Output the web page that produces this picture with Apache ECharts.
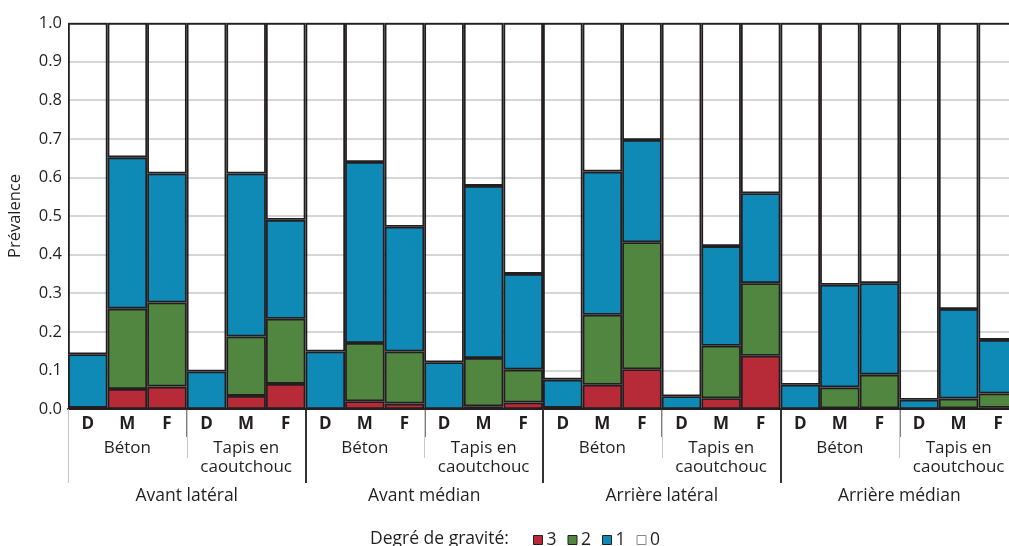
<!DOCTYPE html>
<html>
<head>
<meta charset="utf-8">
<script src="https://cdn.jsdelivr.net/npm/echarts@6/dist/echarts.min.js"></script>
<style>
  html, body { margin: 0; padding: 0; background: #ffffff; }
  #chart { width: 1009px; height: 546px; }
</style>
</head>
<body>
<div id="chart"></div>
<script>
// Hierarchy of the horizontal axis: position on the hoof, floor type, stage
const positions = ['Avant latéral', 'Avant médian', 'Arrière latéral', 'Arrière médian'];
const surfaces = ['Béton', 'Tapis en\ncaoutchouc'];
const stages = ['D', 'M', 'F'];

// Severity grades and their colours
const grades = ['3', '2', '1', '0'];
const gradeColors = ['#b72a38', '#518641', '#0f89b6', 'transparent'];

// Prevalence share of each severity grade, one value per bar (stacked bottom to top)
const grade3 = [0.003, 0.052, 0.058, 0, 0.034, 0.065,
                0, 0.020, 0.014, 0, 0.007, 0.017,
                0.003, 0.063, 0.103, 0, 0.028, 0.138,
                0, 0.002, 0.002, 0, 0.002, 0.003];
const grade2 = [0, 0.208, 0.218, 0, 0.154, 0.169,
                0, 0.151, 0.135, 0, 0.125, 0.085,
                0, 0.181, 0.329, 0, 0.136, 0.188,
                0, 0.054, 0.087, 0, 0.025, 0.037];
const grade1 = [0.139, 0.392, 0.334, 0.097, 0.422, 0.256,
                0.149, 0.469, 0.323, 0.121, 0.446, 0.248,
                0.073, 0.371, 0.265, 0.033, 0.258, 0.233,
                0.063, 0.266, 0.237, 0.024, 0.232, 0.139];
const grade0 = [0.858, 0.348, 0.390, 0.903, 0.390, 0.510,
                0.851, 0.360, 0.528, 0.879, 0.422, 0.650,
                0.924, 0.385, 0.303, 0.967, 0.578, 0.441,
                0.937, 0.678, 0.674, 0.976, 0.741, 0.821];

const gradeData = [grade3, grade2, grade1, grade0];

// Category keys for each level of the axis
const barKeys = [];
const surfaceKeys = [];
positions.forEach(p => {
  surfaces.forEach(s => {
    surfaceKeys.push(p + '|' + s);
    stages.forEach(st => barKeys.push(p + '|' + s + '|' + st));
  });
});

const ink = '#231f20';
const font = 'Open Sans';

const chart = echarts.init(document.getElementById('chart'), null, { renderer: 'canvas' });

const baseX = {
  type: 'category',
  position: 'bottom',
  gridIndex: 0,
  boundaryGap: true,
  axisLine: { show: false },
  splitLine: { show: false }
};

chart.setOption({
  animation: false,
  backgroundColor: '#ffffff',
  textStyle: { fontFamily: font, color: ink },
  grid: { left: 68, top: 23, width: 950, height: 386, outerBoundsMode: 'none', containLabel: false },
  title: {
    text: 'Degré de gravité:',
    left: 370, top: 530,
    padding: 0,
    textStyle: { fontFamily: font, fontSize: 17.5, fontWeight: 'normal', color: ink }
  },
  legend: {
    left: 533, top: 531,
    padding: 0,
    itemWidth: 9, itemHeight: 9, itemGap: 11,
    icon: 'rect',
    selectedMode: false,
    textStyle: { fontFamily: font, fontSize: 17.5, color: ink, padding: [0, 0, 0, -1] },
    data: grades.map((g, i) => ({
      name: g,
      itemStyle: { color: i === 3 ? '#ffffff' : gradeColors[i], borderColor: i === 3 ? '#888' : ink, borderWidth: 1 }
    }))
  },
  xAxis: [
    Object.assign({}, baseX, {
      data: barKeys,
      axisLine: { show: true, lineStyle: { color: ink, width: 2 } },
      axisTick: { show: true, interval: i => i > 0 && i % 3 === 0, length: 28, lineStyle: { color: '#555', width: 1.5 } },
      axisLabel: {
        interval: 0, margin: 7, fontFamily: font, fontSize: 17, fontWeight: 'bold', color: ink,
        formatter: k => k.split('|')[2]
      }
    }),
    Object.assign({}, baseX, {
      data: surfaceKeys,
      axisTick: { show: true, interval: 0, length: 49, lineStyle: { color: '#c8c8c8', width: 1 } },
      axisLabel: {
        interval: 0, margin: 30, fontFamily: font, fontSize: 17, lineHeight: 18.5, color: ink,
        formatter: k => k.split('|')[1]
      }
    }),
    Object.assign({}, baseX, {
      data: positions,
      axisTick: { show: true, interval: 0, length: 74, lineStyle: { color: '#c8c8c8', width: 1 } },
      axisLabel: { interval: 0, margin: 78, fontFamily: font, fontSize: 17.5, color: ink }
    }),
    Object.assign({}, baseX, {
      data: positions,
      axisTick: { show: true, interval: i => i > 0, length: 74, lineStyle: { color: '#333', width: 2 } },
      axisLabel: { show: false }
    })
  ],
  yAxis: {
    type: 'value',
    min: 0, max: 1, interval: 0.1,
    name: 'Prévalence',
    nameLocation: 'middle',
    nameGap: 44,
    nameTextStyle: { fontFamily: font, fontSize: 16.5, color: ink },
    axisLine: { show: false },
    axisTick: { show: false },
    axisLabel: { margin: 6, fontFamily: font, fontSize: 16.5, color: ink, formatter: v => v.toFixed(1) },
    splitLine: { show: true, lineStyle: { color: '#c8c8c8', width: 1.5 } }
  },
  series: grades.map((g, i) => ({
    name: g,
    type: 'bar',
    stack: 'severity',
    xAxisIndex: 0,
    barCategoryGap: '0%',
    data: gradeData[i],
    itemStyle: { color: gradeColors[i], borderColor: ink, borderWidth: 1.8 },
    emphasis: { disabled: true }
  }))
});
</script>
</body>
</html>
